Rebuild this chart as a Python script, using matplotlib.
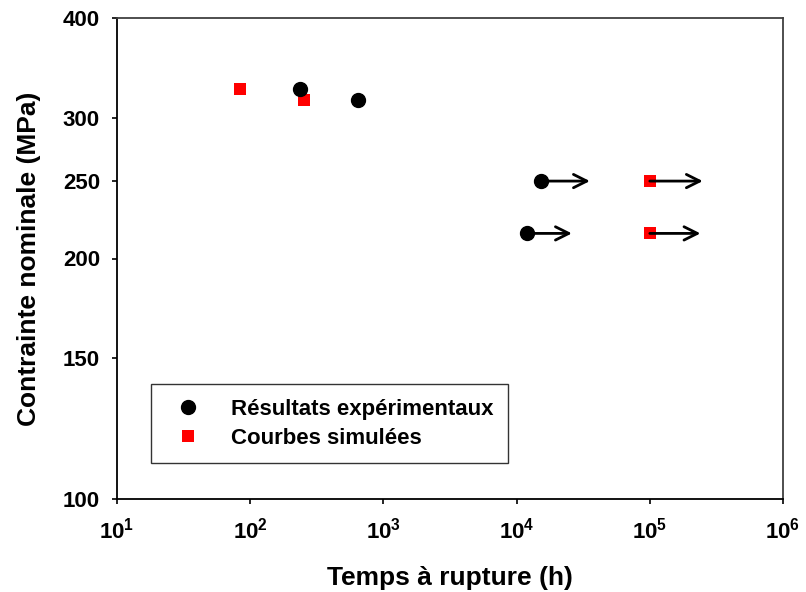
import matplotlib
matplotlib.use('Agg')
import matplotlib.pyplot as plt

plt.rcParams['font.family'] = ['Liberation Sans', 'DejaVu Sans']
plt.rcParams['font.weight'] = 'bold'
plt.rcParams['mathtext.fontset'] = 'custom'
plt.rcParams['mathtext.rm'] = 'Liberation Sans:bold'
plt.rcParams['mathtext.bf'] = 'Liberation Sans:bold'

# experimental results (time h, stress MPa)
exp_time = [237, 640, 15200, 11900]
exp_stress = [326, 316, 250, 215]
# simulated curves
sim_time = [84, 253, 100000, 100000]
sim_stress = [326, 316, 250, 215]
# run-out arrows: start time, end time, stress
arrow_start = [15200, 11900, 100000, 100000]
arrow_end = [35500, 26000, 250000, 240000]
arrow_stress = [250, 215, 250, 215]

xticks = [1e1, 1e2, 1e3, 1e4, 1e5, 1e6]
xlabels = [r'$10^{%d}$' % i for i in range(1, 7)]
yticks = [100, 150, 200, 250, 300, 400]

fig = plt.figure(figsize=(8.06, 5.92), dpi=100)
ax = fig.add_axes([117 / 806, 1 - 499 / 592, 666 / 806, 481 / 592])

for t0, t1, s in zip(arrow_start, arrow_end, arrow_stress):
    ax.annotate('', xy=(t1, s), xytext=(t0, s),
                arrowprops=dict(arrowstyle='->', color='black', lw=2,
                                mutation_scale=24, shrinkA=0, shrinkB=0))

ax.plot(exp_time, exp_stress, 'o', color='black', markersize=10,
        label='Résultats expérimentaux', zorder=3)
ax.plot(sim_time, sim_stress, 's', color='red', markersize=9,
        markeredgewidth=0, label='Courbes simulées', zorder=2)

ax.set_xscale('log')
ax.set_yscale('log')
ax.set_xlim(1e1, 1e6)
ax.set_ylim(100, 400)
ax.set_xticks(xticks)
ax.set_xticklabels(xlabels)
ax.set_yticks(yticks)
ax.set_yticklabels([str(v) for v in yticks])
ax.minorticks_off()
ax.tick_params(direction='out', length=3.6, width=1.2, labelsize=16)
ax.tick_params(axis='y', pad=8.6)
ax.tick_params(axis='x', pad=10)

for side in ['left', 'bottom']:
    ax.spines[side].set_color('black')
    ax.spines[side].set_linewidth(1.3)
for side in ['top', 'right']:
    ax.spines[side].set_color('#404040')
    ax.spines[side].set_linewidth(1.3)

ax.set_xlabel('Temps à rupture (h)', fontsize=19, fontweight='bold', labelpad=16)
ax.set_ylabel('Contrainte nominale (MPa)', fontsize=19, fontweight='bold', labelpad=16)

leg = ax.legend(loc='lower left', bbox_to_anchor=(34 / 666, 36 / 481),
                fontsize=16, frameon=True, fancybox=False, edgecolor='black',
                borderpad=0.65, handletextpad=0.95, labelspacing=0.35,
                borderaxespad=0)
leg.get_frame().set_linewidth(1.0)

fig.savefig('out.png', dpi=100)
